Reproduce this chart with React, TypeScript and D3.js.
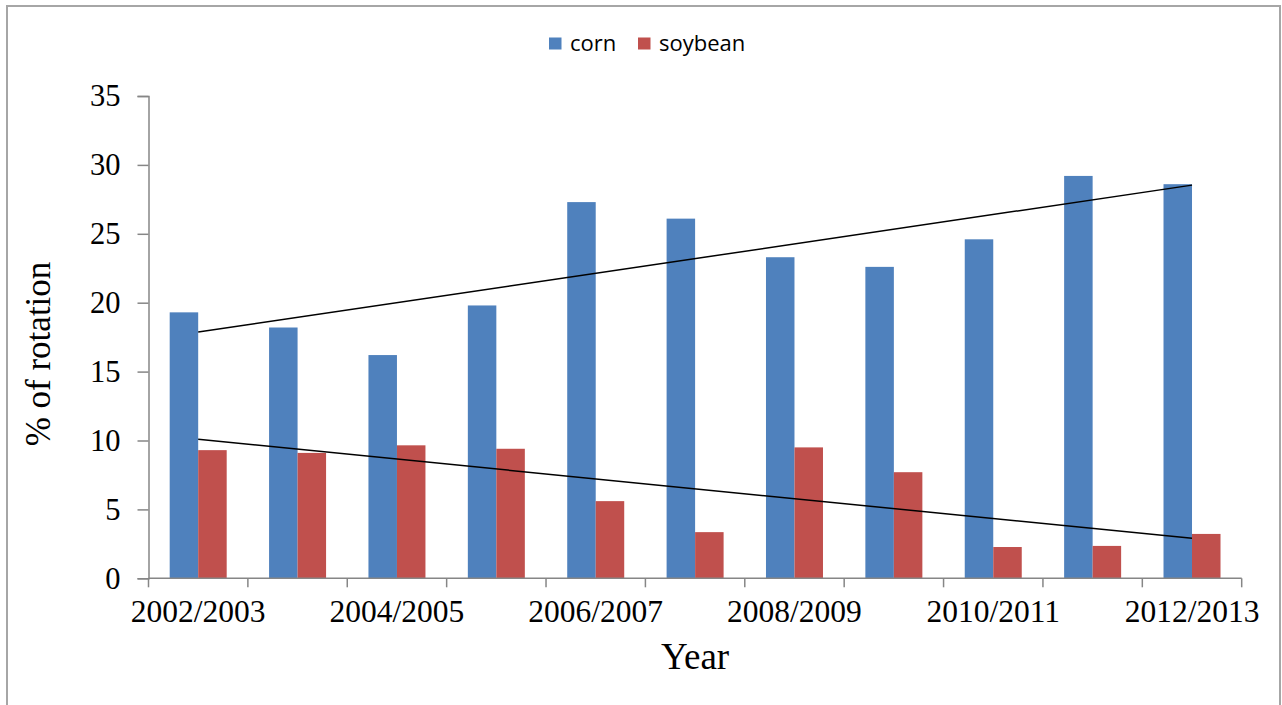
import React, { useRef, useEffect } from 'react';
import * as d3 from 'd3';

const years = ['2002/2003', '2003/2004', '2004/2005', '2005/2006', '2006/2007', '2007/2008',
    '2008/2009', '2009/2010', '2010/2011', '2011/2012', '2012/2013'];
const cornValues = [19.3, 18.2, 16.2, 19.8, 27.3, 26.1, 23.3, 22.6, 24.6, 29.2, 28.6];
const soyValues = [9.3, 9.1, 9.65, 9.4, 5.6, 3.35, 9.5, 7.7, 2.27, 2.35, 3.22];
const seriesNames = ['corn', 'soybean'];
const yTicks = [0, 5, 10, 15, 20, 25, 30, 35];
const labelledYears = ['2002/2003', '2004/2005', '2006/2007', '2008/2009', '2010/2011', '2012/2013'];

const colors: Record<string, string> = { corn: '#4F81BD', soybean: '#C0504D' };

// least squares fit over category index
function linFit(vals: number[]) {
    const n = vals.length;
    const mx = d3.mean(vals.map((_, i) => i)) as number;
    const my = d3.mean(vals) as number;
    let num = 0, den = 0;
    vals.forEach((v, i) => { num += (i - mx) * (v - my); den += (i - mx) * (i - mx); });
    const slope = num / den;
    return [0, n - 1].map(i => ({ i, v: my + slope * (i - mx) }));
}

export default function App() {
    const ref = useRef<SVGSVGElement>(null);
    const width = 1282, height = 705;

    useEffect(() => {
        const svg = d3.select(ref.current);
        svg.selectAll('*').remove();

        const left = 148.5, right = 1241.7, top = 96, bottom = 578.3;
        const serif = '"Liberation Serif", "Times New Roman", serif';
        const sans = '"Open Sans", "Segoe UI", sans-serif';

        svg.append('rect').attr('x', 0).attr('y', 0).attr('width', width).attr('height', height).attr('fill', '#fff');
        // outer frame
        svg.append('rect').attr('x', 7).attr('y', 6).attr('width', 1273).attr('height', 720)
            .attr('fill', 'none').attr('stroke', '#a6a6a6').attr('stroke-width', 2);

        const x0 = d3.scaleBand().domain(years).range([left, right]).padding(0);
        const groupW = 57;
        const x1 = d3.scaleBand().domain(seriesNames).range([0, groupW]).padding(0);
        const y = d3.scaleLinear().domain([0, 35]).range([bottom, top]);

        const data = years.map((yr, i) => ({ yr, corn: cornValues[i], soybean: soyValues[i] }));

        const groups = svg.append('g').selectAll('g').data(data).join('g')
            .attr('transform', d => `translate(${(x0(d.yr) as number) + (x0.bandwidth() - groupW) / 2},0)`);
        groups.selectAll('rect').data(d => seriesNames.map(s => ({ s, v: (d as any)[s] as number })))
            .join('rect')
            .attr('x', d => x1(d.s) as number)
            .attr('y', d => y(d.v))
            .attr('width', x1.bandwidth())
            .attr('height', d => bottom - y(d.v))
            .attr('fill', d => colors[d.s]);

        // trend lines
        const cx = (i: number) => (x0(years[i]) as number) + x0.bandwidth() / 2;
        [cornValues, soyValues].forEach(vals => {
            const pts = linFit(vals);
            svg.append('path')
                .attr('d', d3.line<{ i: number, v: number }>().x(p => cx(p.i)).y(p => y(p.v))(pts))
                .attr('stroke', '#000').attr('stroke-width', 1.5).attr('fill', 'none');
        });

        // y axis
        const yAxis = svg.append('g').attr('transform', `translate(${left},0)`)
            .call(d3.axisLeft(y).tickValues(yTicks).tickSize(11).tickPadding(17));
        yAxis.select('.domain').attr('stroke', '#868686').attr('stroke-width', 1.5);
        yAxis.selectAll('line').attr('stroke', '#868686').attr('stroke-width', 1.5);
        yAxis.selectAll('text').attr('font-family', serif).attr('font-size', 30.5).attr('fill', '#000');

        // x axis
        const tickPos = d3.range(years.length + 1).map(i => left + i * x0.bandwidth());
        const xg = svg.append('g');
        xg.append('line').attr('x1', left).attr('x2', right).attr('y1', bottom).attr('y2', bottom)
            .attr('stroke', '#868686').attr('stroke-width', 1.5);
        xg.selectAll('line.tk').data(tickPos).join('line').attr('class', 'tk')
            .attr('x1', d => d).attr('x2', d => d).attr('y1', bottom).attr('y2', bottom + 9)
            .attr('stroke', '#868686').attr('stroke-width', 1.5);
        xg.selectAll('text').data(labelledYears).join('text')
            .attr('x', d => cx(years.indexOf(d)))
            .attr('y', 622)
            .attr('text-anchor', 'middle')
            .attr('font-family', serif).attr('font-size', 31.5)
            .text(d => d);

        // axis titles
        svg.append('text').attr('x', (left + right) / 2).attr('y', 669)
            .attr('text-anchor', 'middle').attr('font-family', serif).attr('font-size', 37)
            .text('Year');
        svg.append('text').attr('transform', `translate(50,354) rotate(-90)`)
            .attr('text-anchor', 'middle').attr('font-family', serif).attr('font-size', 35)
            .text('% of rotation');

        // legend
        const leg = svg.append('g');
        const legItems = [{ s: 'corn', x: 549 }, { s: 'soybean', x: 638 }];
        legItems.forEach(it => {
            leg.append('rect').attr('x', it.x).attr('y', 37.5).attr('width', 12.5).attr('height', 12)
                .attr('fill', colors[it.s]);
            leg.append('text').attr('x', it.x + 21).attr('y', 51)
                .attr('font-family', sans).attr('font-size', 22).attr('fill', '#000')
                .text(it.s);
        });
    }, []);

    return (
        <svg ref={ref} width={width} height={height}
            style={{ position: 'absolute', left: 0, top: 0, display: 'block' }} />
    );
}
